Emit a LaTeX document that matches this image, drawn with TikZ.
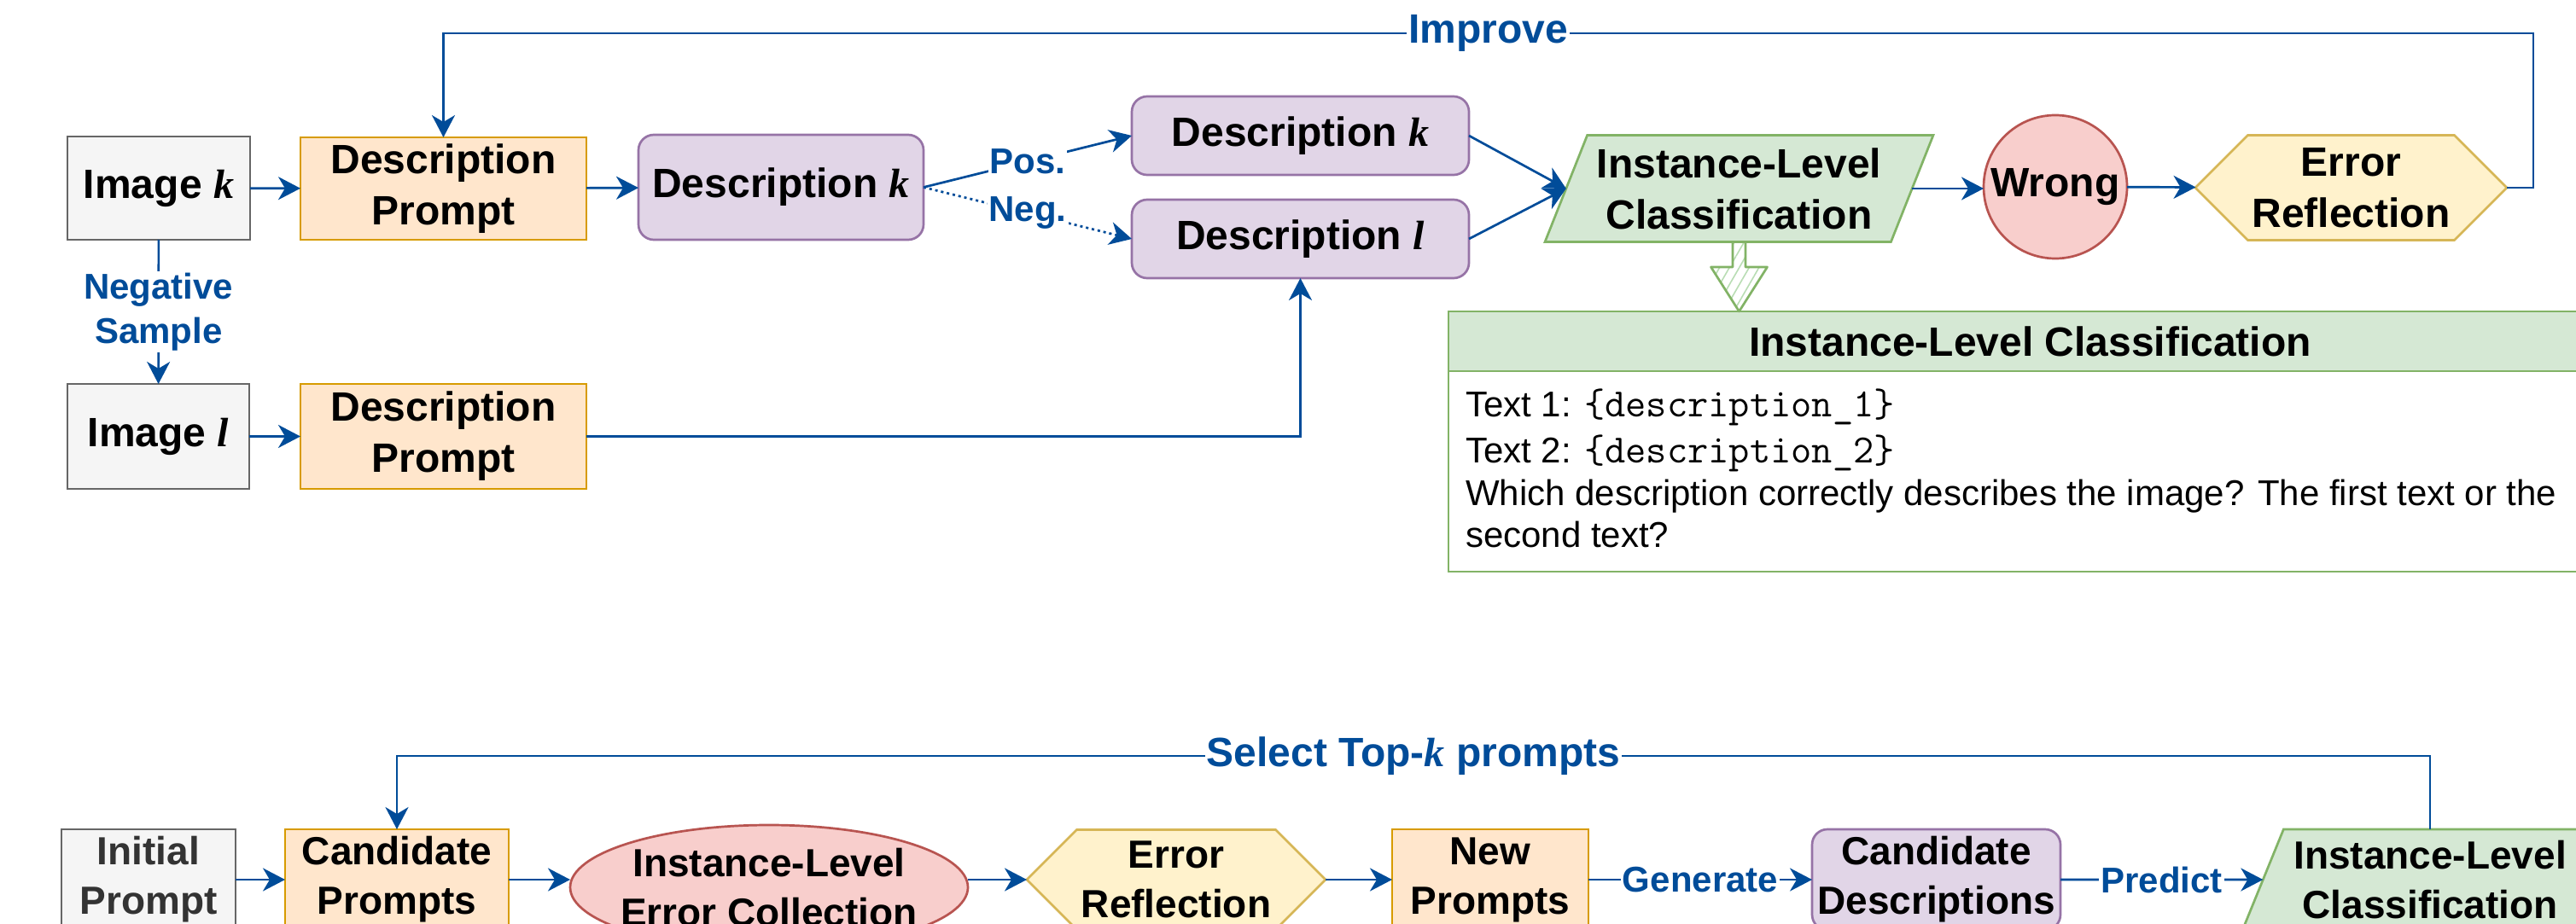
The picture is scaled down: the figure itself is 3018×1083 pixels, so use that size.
\documentclass[tikz,border=0pt]{standalone}
\usepackage{fontspec}
\setmainfont{Liberation Sans}
\setmonofont{Latin Modern Mono}[Scale=1.12]
\newfontfamily\varfont{Liberation Serif}
\newcommand\vark{{\varfont\bfseries\itshape k}}
\newcommand\varl{{\varfont\bfseries\itshape l}}
\usetikzlibrary{shapes.geometric,shapes.symbols,arrows.meta,patterns.meta,calc}

\definecolor{flowblue}{HTML}{004C99}
\definecolor{grayfill}{HTML}{F5F5F5}
\definecolor{grayline}{HTML}{666666}
\definecolor{graytext}{HTML}{333333}
\definecolor{orangefill}{HTML}{FFE6CC}
\definecolor{orangeline}{HTML}{D79B00}
\definecolor{purplefill}{HTML}{E1D5E7}
\definecolor{purpleline}{HTML}{9673A6}
\definecolor{greenfill}{HTML}{D5E8D4}
\definecolor{greenline}{HTML}{82B366}
\definecolor{hatchgreen}{HTML}{B9DDB4}
\definecolor{redfill}{HTML}{F8CECC}
\definecolor{redline}{HTML}{B85450}
\definecolor{yellowfill}{HTML}{FFF2CC}
\definecolor{yellowline}{HTML}{D6B656}

\begin{document}
\begin{tikzpicture}[x=1pt,y=-1pt,
  every node/.style={inner sep=0pt, outer sep=0pt, align=center},
  bigtext/.style={font=\bfseries\fontsize{48}{60}\selectfont},
  lowtext/.style={font=\bfseries\fontsize{46}{58}\selectfont},
  shapeline/.style={line width=2.7pt},
  graybox/.style={rectangle, shapeline, draw=grayline, fill=grayfill},
  orangebox/.style={rectangle, shapeline, draw=orangeline, fill=orangefill},
  purplebox/.style={rectangle, shapeline, draw=purpleline, fill=purplefill, rounded corners=18pt},
  greenpara/.style={trapezium, trapezium left angle=64, trapezium right angle=116,
    trapezium stretches=true, shapeline, draw=greenline, fill=greenfill},
  redround/.style={ellipse, shapeline, draw=redline, fill=redfill},
  yellowhex/.style={signal, signal to=west and east, signal pointer angle=90,
    shapeline, draw=yellowline, fill=yellowfill},
  flow/.style={draw=flowblue, line width=2.7pt, -{Stealth[length=26pt,width=27pt,inset=8pt]}},
  lbl/.style={fill=white, text=flowblue, inner sep=2pt, font=\bfseries\fontsize{42}{52}\selectfont},
  looplbl/.style={lbl, font=\bfseries\fontsize{48}{56}\selectfont},
  bodytext/.style={anchor=base west, font=\fontsize{42}{50}\selectfont},
  sketcharrow/.style={draw=greenline, line width=2.7pt, line join=round,
    pattern={Lines[angle=60,distance=10pt,line width=1.6pt]}, pattern color=hatchgreen},
]
\useasboundingbox (0,0) rectangle (3018,1083);
\fill[white] (0,0) rectangle (3018,1083);
\clip (0,0) rectangle (3018,1083);

% ---------- upper pipeline ----------
\node[graybox, bigtext, minimum width=214, minimum height=121] (imk) at (186,220.5) {Image \vark};
\node[orangebox, bigtext, minimum width=335, minimum height=120] (dp1) at (519.5,221) {Description\\Prompt};
\node[purplebox, bigtext, minimum width=334, minimum height=123] (dk) at (915,219.5) {Description \vark};
\node[purplebox, bigtext, minimum width=395, minimum height=92] (dk2) at (1523.5,159) {Description \vark};
\node[purplebox, bigtext, minimum width=395, minimum height=92] (dl) at (1523.5,280) {Description \varl};
\node[greenpara, bigtext, minimum width=457, minimum height=125] (ilc) at (2037.5,221) {Instance-Level\\Classification};
\node[redround, minimum width=168, minimum height=168,
  label={[bigtext]center:Wrong}] (wrong) at (2408,219) {};
\node[yellowhex, bigtext, minimum width=365, minimum height=123] (er) at (2754.5,220) {Error\\Reflection};

\node[graybox, bigtext, minimum width=213, minimum height=123] (iml) at (185.5,511.5) {Image \varl};
\node[orangebox, bigtext, minimum width=335, minimum height=123] (dp2) at (519.5,511.5) {Description\\Prompt};

% template panel
\node[rectangle, shapeline, draw=greenline, fill=white, minimum width=1363, minimum height=235] (ilcbody) at (2378.5,552.5) {};
\node[rectangle, shapeline, draw=greenline, fill=greenfill, bigtext, minimum width=1363, minimum height=70] (ilchead) at (2378.5,400) {Instance-Level Classification};
\node[bodytext] (body1) at (1717,488) {Text 1: \texttt{\{description\_1\}}};
\node[bodytext] (body2) at (1717,542) {Text 2: \texttt{\{description\_2\}}};
\node[bodytext] (body3) at (1717,592) {Which description correctly describes the image? The first text or the};
\node[bodytext] (body4) at (1717,641) {second text?};

% sketched block arrow into the panel
\coordinate (ga) at (ilc.center |- ilc.south);
\coordinate (gb) at (ga |- ilchead.north);
\path[sketcharrow] (gb) -- ++(33,-52) -- ++(-25.5,0) -- ++(0,-29.5) -- ++(-15,0)
  -- ++(0,29.5) -- ++(-25.5,0) -- cycle;

% upper connectors
\draw[flow] (imk) -- (dp1);
\draw[flow] (dp1) -- (dk);
\draw[flow] (dk.east) -- node[lbl] {Pos.} (dk2.west);
\draw[flow, dash pattern=on 3pt off 4pt] (dk.east) -- node[lbl] {Neg.} (dl.west);
\draw[flow] (dk2.east) -- (ilc.west);
\draw[flow] (dl.east) -- (ilc.west);
\draw[flow] (ilc.east) -- (wrong.west |- ilc.east);
\draw[flow] (wrong) -- (er);
\draw[flow] (imk) -- node[lbl] {Negative\\Sample} (iml);
\draw[flow] (iml) -- (dp2);
\draw[flow] (dp2.east) -| (dl.south);

\coordinate (impA) at (2968,39);
\coordinate (impB) at (dp1.north |- impA);
\draw[flow] (er.east) -| (impA) -- node[looplbl] {Improve} (impB) -- (dp1.north);

% ---------- lower pipeline ----------
\node[graybox, lowtext, text=graytext, minimum width=204, minimum height=118] (ip) at (174,1031) {Initial\\Prompt};
\node[orangebox, lowtext, minimum width=262, minimum height=118] (cp) at (465,1031) {Candidate\\Prompts};
\node[redround, minimum width=466, minimum height=146,
  label={[lowtext, align=center]center:Instance-Level\\Error Collection}] (ec) at (901,1040) {};
\node[yellowhex, lowtext, minimum width=350, minimum height=117] (er2) at (1378,1031) {Error\\Reflection};
\node[orangebox, lowtext, minimum width=230, minimum height=118] (np) at (1746,1031) {New\\Prompts};
\node[purplebox, lowtext, minimum width=291, minimum height=118] (cd) at (2268.5,1031) {Candidate\\Descriptions};
\node[greenpara, lowtext, minimum width=440, minimum height=118] (ilc2) at (2847,1031) {Instance-Level\\Classification};

\draw[flow] (ip) -- (cp);
\draw[flow] (cp.east) -- (cp.east -| ec.west);
\draw[flow] (ec.east |- er2.west) -- (er2.west);
\draw[flow] (er2) -- (np);
\draw[flow] (np) -- node[lbl] {Generate} (cd);
\draw[flow] (cd) -- node[lbl] {Predict} (ilc2.west);

\coordinate (selR) at (2847,886);
\coordinate (selL) at (cp.north |- selR);
\draw[flow] (ilc2.center |- ilc2.north) -- (selR) -- node[looplbl] {Select Top-\vark{} prompts} (selL) -- (cp.north);
\end{tikzpicture}
\end{document}
